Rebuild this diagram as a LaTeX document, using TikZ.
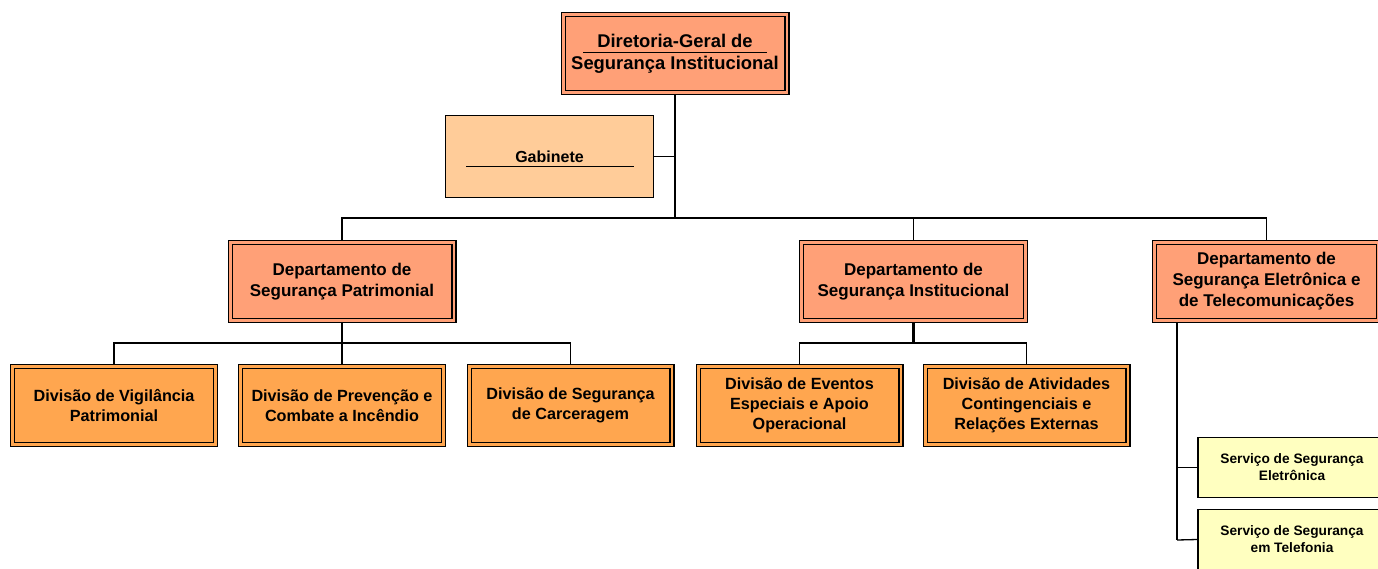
\documentclass[tikz,border=0pt]{standalone}
\usepackage{fontspec}
\setmainfont{Liberation Sans}
\usetikzlibrary{backgrounds}
\definecolor{salmon}{HTML}{FFA077}
\definecolor{divorange}{HTML}{FFA64F}
\definecolor{gabpeach}{HTML}{FFCC99}
\definecolor{servyellow}{HTML}{FFFFC0}
\begin{document}
\begin{tikzpicture}[x=1pt,y=-1pt,
  dbox/.style={draw=black, line width=1.4pt, double distance=2.6pt, inner sep=0pt, align=center, text=black},
  topbox/.style={dbox, double=salmon, fill=salmon, minimum width=223.6pt, minimum height=77.6pt, font=\fontsize{18.4}{22}\selectfont\bfseries},
  deptbox/.style={dbox, double=salmon, fill=salmon, minimum width=223.6pt, minimum height=77.6pt, font=\fontsize{17}{21}\selectfont\bfseries},
  divbox/.style={dbox, double=divorange, fill=divorange, minimum width=202.6pt, minimum height=77.6pt, font=\fontsize{16.2}{20}\selectfont\bfseries},
  gabbox/.style={draw=black, line width=1.3pt, fill=gabpeach, inner sep=0pt, minimum width=208pt, minimum height=82pt, align=center, font=\fontsize{16}{20}\selectfont\bfseries},
  servbox/.style={draw=black, line width=1.3pt, fill=servyellow, inner sep=0pt, minimum width=188pt, minimum height=60pt, align=center, font=\fontsize{13.7}{17}\selectfont\bfseries},
  thick conn/.style={draw=black, line width=2.2pt},
  thin conn/.style={draw=black, line width=1.3pt},
  uline/.style={draw=black, line width=1pt}]
\useasboundingbox (0,0) rectangle (1378,568);

% nodes
\node[topbox] (dg) at (675,53.5) {Diretoria-Geral de\\Segurança Institucional};
\node[gabbox] (gab) at (549.5,156.5) {Gabinete};
\node[deptbox] (dp) at (342,281.5) {Departamento de\\Segurança Patrimonial};
\node[deptbox] (di) at (913.5,281.5) {Departamento de\\Segurança Institucional};
\node[deptbox] (de) at (1266.5,281.5) {Departamento de\\Segurança Eletrônica e\\de Telecomunicações};
\node[divbox] (d1) at (114,405.5) {Divisão de Vigilância\\Patrimonial};
\node[divbox] (d2) at (342,405.5) {Divisão de Prevenção e\\Combate a Incêndio};
\node[divbox] (d3) at (570.5,405.5) {Divisão de Segurança\\de Carceragem};
\node[divbox] (d4) at (799.5,405.5) {Divisão de Eventos\\Especiais e Apoio\\Operacional};
\node[divbox] (d5) at (1026.5,405.5) {Divisão de Atividades\\Contingenciais e\\Relações Externas};
\node[servbox] (s1) at (1292,467.5) {Serviço de Segurança\\Eletrônica};
\node[servbox] (s2) at (1292,539.5) {Serviço de Segurança\\em Telefonia};

% underline artefacts
\coordinate (u1a) at (583,52.5); \coordinate (u1b) at (767,52.5);
\coordinate (u2a) at (466,166); \coordinate (u2b) at (634,166);
\draw[uline] (u1a) -- (u1b);
\draw[uline] (u2a) -- (u2b);

% connectors
\coordinate (jtop) at (dg.south |- 0,218);
\coordinate (jdp) at (dp.south |- 0,343);
\coordinate (jdi) at (di.south |- 0,343);
\coordinate (jde) at (1177,540);
\begin{scope}[on background layer]
  \draw[thick conn] (dg.south) -- (jtop);
  \draw[thin conn] (gab.east) -- (gab.east -| dg.south);
  \draw[thin conn] (dp.north) |- (jtop) -| (de.north);
  \draw[thin conn] (jtop) -| (di.north);
  \draw[thick conn] (dp.south) -- (jdp);
  \draw[thin conn] (d1.north) |- (jdp) -| (d3.north);
  \draw[thin conn] (jdp) -- (d2.north);
  \draw[thick conn] (di.south) -- (jdi);
  \draw[thin conn] (d4.north) |- (jdi) -| (d5.north);
  \draw[thick conn] (de.south -| jde) -- (jde);
  \draw[thin conn] (s1.west) -- (s1.west -| jde);
  \draw[thin conn] (jde) -- (s2.west);
\end{scope}
\end{tikzpicture}
\end{document}
